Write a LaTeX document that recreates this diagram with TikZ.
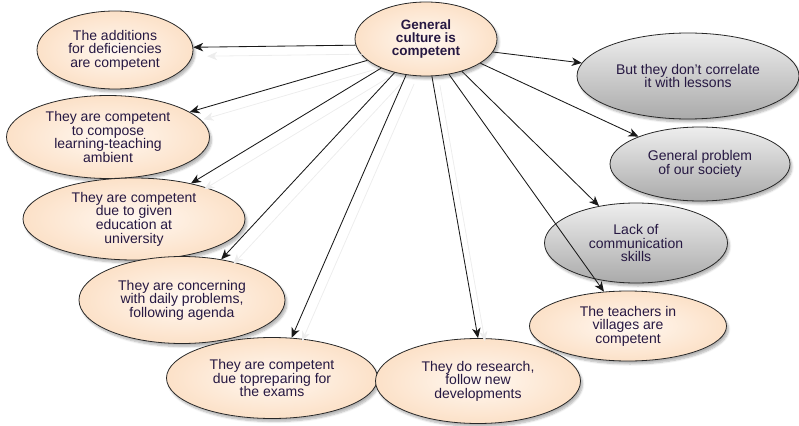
\documentclass[tikz,border=0pt]{standalone}
\usepackage{fontspec}
\setmainfont{Liberation Sans}
\usetikzlibrary{arrows.meta,shadows.blur,shapes.geometric}
\definecolor{txt}{RGB}{38,24,66}
\definecolor{peachin}{RGB}{255,248,241}
\definecolor{peachout}{RGB}{252,225,200}
\definecolor{greytop}{RGB}{238,238,238}
\definecolor{greybot}{RGB}{170,170,170}
\definecolor{rim}{RGB}{40,40,40}

\begin{document}
\begin{tikzpicture}[x=1pt,y=-1pt,
  bubble/.style={ellipse, draw=rim, line width=0.8pt, inner sep=0pt, align=center,
    text=txt, font=\fontsize{14}{13.6}\selectfont,
    blur shadow={shadow xshift=2pt, shadow yshift=-3pt, shadow opacity=30, shadow blur steps=6}},
  warm/.style={bubble, inner color=peachin, outer color=peachout},
  cool/.style={bubble, top color=greytop, bottom color=greybot},
  link/.style={-{Stealth[length=10pt,width=8.5pt,inset=3pt]}, line width=0.85pt, black!90},
  ghost/.style={-{Stealth[length=10pt,width=8.5pt,inset=3pt]}, line width=0.8pt, black!7,
    shorten >=6pt}
]
\useasboundingbox (0,0) rectangle (799,425);

% hub
\node[warm, font=\bfseries\fontsize{13.5}{12.8}\selectfont,
      minimum width=142pt, minimum height=74pt] (core) at (426,39) {General\\culture is\\competent};

% left-hand bubbles
\node[warm, minimum width=156pt, minimum height=78pt] (add) at (115,50) {The additions\\for deficiencies\\are competent};
\node[warm, minimum width=203pt, minimum height=83pt] (comp) at (108,137) {They are competent\\to compose\\learning-teaching\\ambient};
\node[warm, minimum width=222pt, minimum height=82pt] (uni) at (134,219) {They are competent\\due to given\\education at\\university};
\node[warm, minimum width=206pt, minimum height=87pt] (daily) at (182,300) {They are concerning\\with daily problems,\\following agenda};
\node[warm, minimum width=211pt, minimum height=81pt] (exam) at (272,378) {They are competent\\due topreparing for\\the exams};
\node[warm, minimum width=205pt, minimum height=85pt] (res) at (478,381) {They do research,\\follow new\\developments};

% right-hand bubbles
\node[cool, minimum width=222pt, minimum height=86pt] (corr) at (688,76) {But they don't correlate\\it with lessons};
\node[cool, minimum width=180pt, minimum height=74pt] (soc) at (700,164) {General problem\\of our society};
\node[cool, minimum width=183pt, minimum height=80pt] (lack) at (636,243) {Lack of\\communication\\skills};
\node[warm, minimum width=197pt, minimum height=70pt] (vill) at (628,326) {The teachers in\\villages are\\competent};

% faint offset copies of the connectors
\begin{scope}[transform canvas={xshift=8pt,yshift=-9pt}]
\draw[ghost] (core.185) -- (add.2);
\draw[ghost] (core.200) -- (comp.17);
\draw[ghost] (core.213) -- (uni.32);
\draw[ghost] (core.227) -- (daily.46);
\draw[ghost] (core.241) -- (exam.64);
\draw[ghost] (core.279) -- (res.90);
\end{scope}

% connectors
\draw[link] (core.185) -- (add.2);
\draw[link] (core.200) -- (comp.17);
\draw[link] (core.213) -- (uni.32);
\draw[link] (core.227) -- (daily.46);
\draw[link] (core.241) -- (exam.64);
\draw[link] (core.279) -- (res.90);
\draw[link] (core.303) -- (vill.125);
\draw[link] (core.318) -- (lack.135);
\draw[link] (core.336) -- (soc.156);
\draw[link] (core.349) -- (corr.173);
\end{tikzpicture}
\end{document}
